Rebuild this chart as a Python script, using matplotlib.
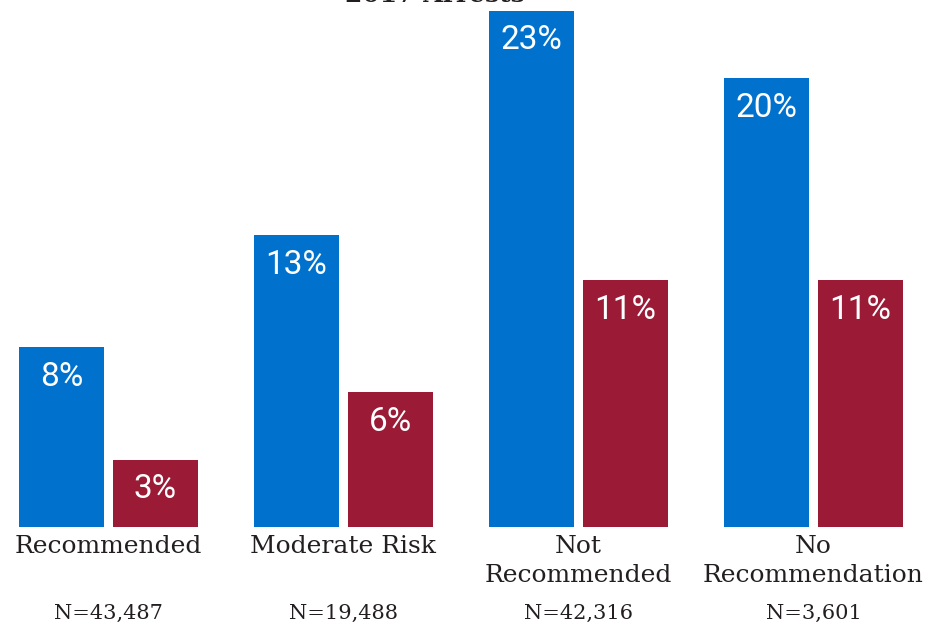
import matplotlib
matplotlib.use("Agg")
import matplotlib.pyplot as plt
import numpy as np

categories = ["Recommended", "Moderate Risk", "Not\nRecommended", "No\nRecommendation"]
counts = ["N=43,487", "N=19,488", "N=42,316", "N=3,601"]
series_a = [8, 13, 23, 20]
series_b = [3, 6, 11, 11]
title = "2017 Arrests"

blue = "#0072CE"
red = "#9B1B37"
ink = "#231F20"

W, H = 929, 627
fig = plt.figure(figsize=(W / 100, H / 100), dpi=100)
ax = fig.add_axes([0, 100 / H, 1, 527 / H])

x = np.arange(len(categories))
width = 0.362
offset = 0.2

bars_a = ax.bar(x - offset, series_a, width, color=blue)
bars_b = ax.bar(x + offset, series_b, width, color=red)

ax.set_xlim(-0.4617, 3.4915)
ax.set_ylim(0, 23.47)
ax.axis("off")

for bars, vals in ((bars_a, series_a), (bars_b, series_b)):
    for b, v in zip(bars, vals):
        ax.annotate(f"{v}%", (b.get_x() + b.get_width() / 2, v),
                    xytext=(0, -21.5), textcoords="offset points",
                    ha="center", va="center", color="white",
                    fontsize=24, family="Roboto")

serif = ["DejaVu Serif"]
for xi, cat, n in zip(x, categories, counts):
    ax.annotate(cat, (xi, 0), xytext=(0, -6), textcoords="offset points",
                ha="center", va="top", color=ink, fontsize=18,
                family=serif, linespacing=1.3)
    ax.annotate(n, (xi, 0), xytext=(0, -62), textcoords="offset points",
                ha="center", va="center", color=ink, fontsize=15,
                family=serif)

fig.text(435 / W, 1 - 2 / H, title, ha="center", va="baseline",
         color=ink, fontsize=18, fontweight="bold", family=serif)

fig.savefig("out.png", dpi=100, facecolor="white")
